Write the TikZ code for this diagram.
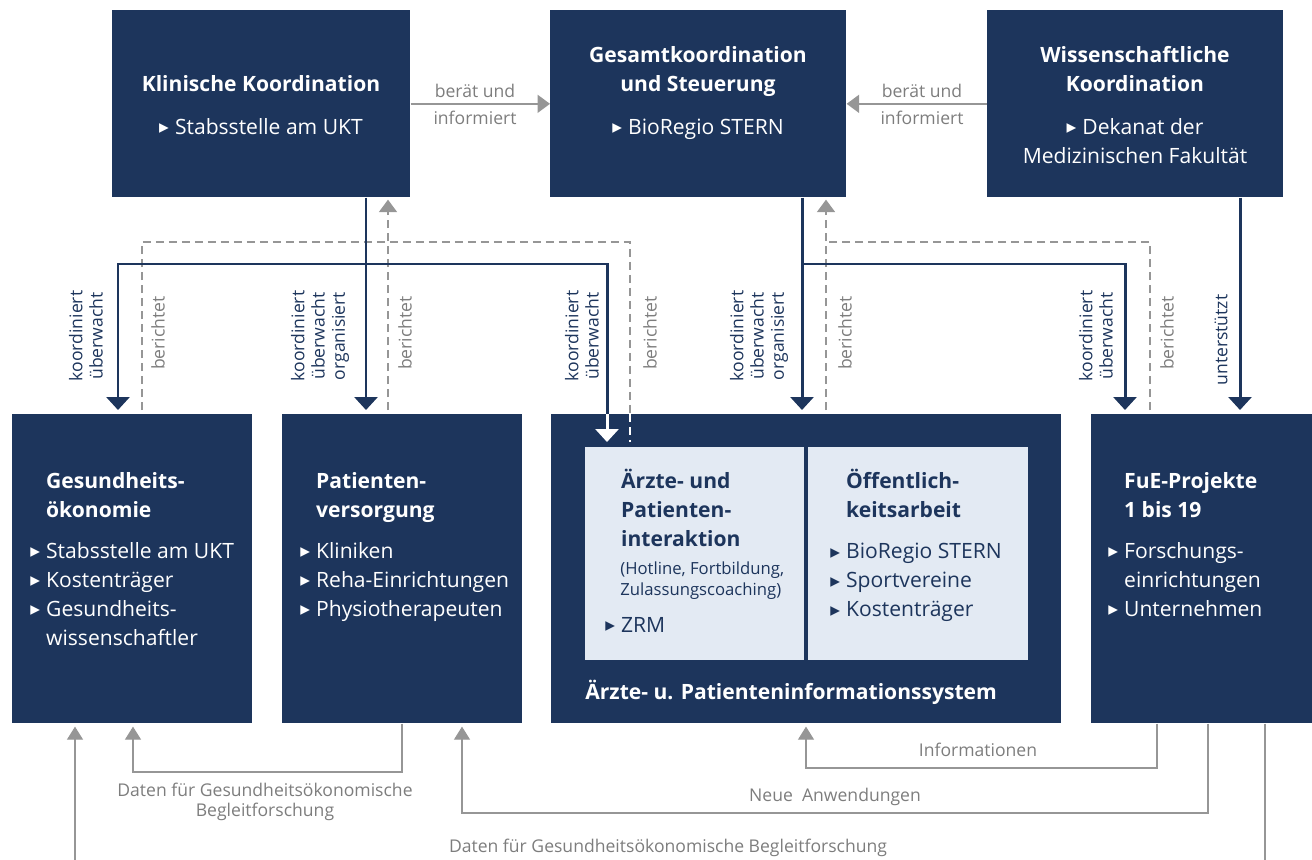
\documentclass[tikz,border=0pt]{standalone}
\usepackage{fontspec}
\setmainfont{Open Sans}
\newfontfamily\symf{DejaVu Sans}
\usetikzlibrary{arrows.meta}
\definecolor{navy}{RGB}{29,53,92}
\definecolor{panel}{RGB}{227,234,243}
\definecolor{greyln}{RGB}{150,150,150}
\definecolor{greytx}{RGB}{125,125,125}
\newcommand\bul{\makebox[9pt][l]{\raisebox{0.5pt}{\symf\fontsize{11}{11}\selectfont ▸}}}
\newcommand\ind{\hspace*{9pt}}
\begin{document}
\begin{tikzpicture}[x=0.02cm,y=-0.02cm,
    box/.style={fill=navy,inner sep=0pt,anchor=north west},
    inbox/.style={fill=panel,inner sep=0pt,anchor=north west},
    txt/.style={text=white,inner sep=0pt,font=\fontsize{12}{16.5}\selectfont},
    vlab/.style={rotate=90,align=center,inner sep=0pt,font=\fontsize{10}{11.5}\selectfont},
    glab/.style={text=greytx,inner sep=0pt,font=\fontsize{10}{11}\selectfont},
    blueln/.style={draw=navy,line width=1.7pt},
    bluearr/.style={blueln,-{Triangle[width=0.46cm,length=0.26cm]},shorten >=0.08cm},
    dashln/.style={draw=greyln,line width=1.1pt,dash pattern=on 0.16cm off 0.1cm},
    greyarr/.style={draw=greyln,line width=1.1pt,-{Triangle[width=0.36cm,length=0.25cm]}},
    thinarr/.style={draw=greyln,line width=0.6pt,-{Triangle[width=0.32cm,length=0.26cm]},shorten >=0.06cm}]
  \useasboundingbox (0,0) rectangle (1312,859);

  % top row
  \node[box,minimum width=5.96cm,minimum height=3.74cm] (klin) at (112,10) {};
  \node[box,minimum width=5.92cm,minimum height=3.74cm] (gesamt) at (550,10) {};
  \node[box,minimum width=5.92cm,minimum height=3.74cm] (wiss) at (987,10) {};
  \node[txt,align=center,anchor=north] (klint) at (261,75)
    {\textbf{Klinische Koordination}\\[8pt]\bul Stabsstelle am UKT};
  \node[txt,align=center,anchor=north] (gesamtt) at (698,46)
    {\textbf{Gesamtkoordination}\\\textbf{und Steuerung}\\[8pt]\bul BioRegio STERN};
  \node[txt,align=center,anchor=north] (wisst) at (1135,46)
    {\textbf{Wissenschaftliche}\\\textbf{Koordination}\\[8pt]\bul Dekanat der\\Medizinischen Fakultät};

  % bottom row
  \node[box,minimum width=4.8cm,minimum height=6.18cm] (gesoek) at (12,414) {};
  \node[box,minimum width=4.8cm,minimum height=6.18cm] (patv) at (282,414) {};
  \node[box,minimum width=10.2cm,minimum height=6.18cm] (apis) at (551,414) {};
  \node[box,minimum width=4.42cm,minimum height=6.18cm] (fue) at (1091,414) {};
  \node[inbox,minimum width=4.38cm,minimum height=4.26cm] (ai) at (585,447) {};
  \node[inbox,minimum width=4.4cm,minimum height=4.26cm] (oeff) at (808,447) {};

  \node[txt,align=left,anchor=north west] (gesoekt) at (30,472)
    {\ind\textbf{Gesundheits-}\\\ind\textbf{ökonomie}\\[7pt]\bul Stabsstelle am UKT\\\bul Kostenträger\\\bul Gesundheits-\\\ind wissenschaftler};
  \node[txt,align=left,anchor=north west] (patvt) at (300,472)
    {\ind\textbf{Patienten-}\\\ind\textbf{versorgung}\\[7pt]\bul Kliniken\\\bul Reha-Einrichtungen\\\bul Physiotherapeuten};
  \node[txt,align=left,anchor=north west] (fuet) at (1108,472)
    {\ind\textbf{FuE-Projekte}\\\ind\textbf{1 bis 19}\\[7pt]\bul Forschungs-\\\ind einrichtungen\\\bul Unternehmen};
  \node[txt,text=navy,align=left,anchor=north west] (ait) at (605,469)
    {\ind\textbf{Ärzte- und}\\\ind\textbf{Patienten-}\\\ind\textbf{interaktion}};
  \node[txt,text=navy,align=left,anchor=north west,font=\fontsize{9.5}{12}\selectfont] (aip) at (620,561)
    {(Hotline, Fortbildung,\\Zulassungscoaching)};
  \node[txt,text=navy,anchor=north west] (zrm) at (605,617) {\bul ZRM};
  \node[txt,text=navy,align=left,anchor=north west] (oefft) at (830,469)
    {\ind\textbf{Öffentlich-}\\\ind\textbf{keitsarbeit}\\[7pt]\bul BioRegio STERN\\\bul Sportvereine\\\bul Kostenträger};
  \node[txt,anchor=west] (apist) at (585,692) {\textbf{Ärzte- u. Patienteninformationssystem}};

  % berät und informiert
  \draw[greyarr] (klin.east) -- (gesamt.west);
  \draw[greyarr] (wiss.west) -- (gesamt.east);
  \node[glab] (bu1) at (475,91) {berät und};
  \node[glab] (inf1) at (475,118) {informiert};
  \node[glab] (bu2) at (922,91) {berät und};
  \node[glab] (inf2) at (922,118) {informiert};

  % left branch
  \coordinate (kA) at (118,264);
  \coordinate (kB) at (366,264);
  \coordinate (kC) at (607,264);
  \coordinate (kCe) at (607,442);
  \coordinate (bA) at (142,242);
  \coordinate (bB) at (388,242);
  \coordinate (bC) at (630,242);
  \coordinate (bCe) at (630,442);
  \draw[dashln,shorten <=0.08cm] (gesoek.north -| bA) -- (bA) -- (bC) -- (apis.north -| bC);
  \draw[dash pattern=on 0.16cm off 0.1cm,white,line width=1.1pt] (apis.north -| bC) -- (bCe);
  \draw[dashln,-{Triangle[width=0.36cm,length=0.25cm]},shorten <=0.08cm,shorten >=0.04cm] (patv.north -| bB) -- (klin.south -| bB);
  \draw[bluearr] (apis.north -| kC) -- (kC) -- (kA) -- (gesoek.north -| kA);
  \draw[white,line width=1.7pt,-{Triangle[width=0.46cm,length=0.26cm]}] (apis.north -| kC) -- (kCe);
  \draw[bluearr] (klin.south -| kB) -- (patv.north -| kB);

  % right branch
  \coordinate (kD) at (802,264);
  \coordinate (kE) at (1125,264);
  \coordinate (bD) at (826,242);
  \coordinate (bE) at (1150,242);
  \coordinate (wu) at (1240,300);
  \draw[dashln,shorten <=0.08cm] (fue.north -| bE) -- (bE) -- (bD);
  \draw[dashln,-{Triangle[width=0.36cm,length=0.25cm]},shorten <=0.08cm,shorten >=0.04cm] (apis.north -| bD) -- (gesamt.south -| bD);
  \draw[bluearr] (gesamt.south -| kD) -- (apis.north -| kD);
  \draw[bluearr] (kD) -- (kE) -- (fue.north -| kE);
  \draw[bluearr] (wiss.south -| wu) -- (fue.north -| wu);

  % vertical labels
  \node[vlab,text=navy] (l1) at (86,336) {koordiniert\\überwacht};
  \node[vlab,text=greytx] (l2) at (158,333) {berichtet};
  \node[vlab,text=navy] (l3) at (320,336) {koordiniert\\überwacht\\organisiert};
  \node[vlab,text=greytx] (l4) at (405,333) {berichtet};
  \node[vlab,text=navy] (l5) at (582,336) {koordiniert\\überwacht};
  \node[vlab,text=greytx] (l6) at (650,333) {berichtet};
  \node[vlab,text=navy] (l7) at (759,336) {koordiniert\\überwacht\\organisiert};
  \node[vlab,text=greytx] (l8) at (845,333) {berichtet};
  \node[vlab,text=navy] (l9) at (1096,336) {koordiniert\\überwacht};
  \node[vlab,text=greytx] (l10) at (1167,333) {berichtet};
  \node[vlab,text=navy] (l11) at (1221,340) {unterstützt};

  % feedback at the bottom
  \coordinate (d1) at (402,772);
  \coordinate (d1e) at (133,772);
  \coordinate (i1) at (1157,768);
  \coordinate (i1e) at (806,768);
  \coordinate (n1) at (1208,813);
  \coordinate (n1e) at (462,813);
  \coordinate (g1) at (1265,900);
  \coordinate (g1e) at (75,900);
  \draw[thinarr] (patv.south -| d1) -- (d1) -- (d1e) -- (gesoek.south -| d1e);
  \draw[thinarr] (fue.south -| i1) -- (i1) -- (i1e) -- (apis.south -| i1e);
  \draw[thinarr] (fue.south -| n1) -- (n1) -- (n1e) -- (patv.south -| n1e);
  \draw[thinarr] (fue.south -| g1) -- (g1) -- (g1e) -- (gesoek.south -| g1e);
  \node[glab,align=center] (dat1) at (265,802) {Daten für Gesundheitsökonomische\\Begleitforschung};
  \node[glab] (info) at (978,750) {Informationen};
  \node[glab] (neu) at (835,797) {Neue\ \ Anwendungen};
  \node[glab] (dat2) at (668,848) {Daten für Gesundheitsökonomische Begleitforschung};
\end{tikzpicture}
\end{document}
